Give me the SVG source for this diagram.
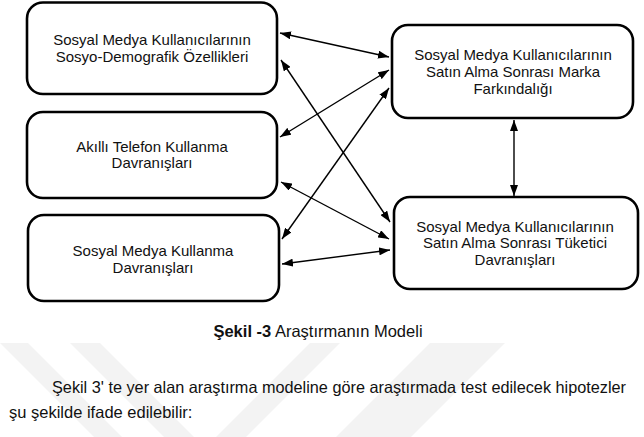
<svg xmlns="http://www.w3.org/2000/svg" width="644" height="437" viewBox="0 0 644 437">
  <style>
    .box { fill: #ffffff; stroke: #000000; stroke-width: 2.6; }
    .lbl { font-family: "Liberation Sans", Arial, sans-serif; font-size: 15px; fill: #111111; text-anchor: middle; }
    .edge { stroke: #000000; stroke-width: 1.4; fill: none; marker-start: url(#ah); marker-end: url(#ah); }
    .wm { fill: #f3f3f3; }
    .cap { font-family: "Liberation Sans", Arial, sans-serif; font-size: 16.5px; fill: #111111; }
    .para { font-family: "Liberation Sans", Arial, sans-serif; font-size: 16.5px; fill: #111111; }
  </style>
  <defs>
    <marker id="ah" viewBox="0 0 11 8" refX="11" refY="4" markerWidth="11" markerHeight="8" markerUnits="userSpaceOnUse" orient="auto-start-reverse">
      <path d="M0,0 L11,4 L0,8 Z" fill="#000000"/>
    </marker>
  </defs>
  <rect width="644" height="437" fill="#ffffff"/>

  <g id="watermark">
    <polygon class="wm" points="0,343 28,343 122,437 94,437"/>
    <polygon class="wm" points="70,343 100,343 194,437 164,437"/>
    <polygon class="wm" points="310,343 340,343 246,437 216,437"/>
    <polygon class="wm" points="430,343 505,343 411,437 336,437"/>
  </g>

  <g id="edges">
    <line class="edge" x1="280" y1="33" x2="389" y2="57"/>
    <line class="edge" x1="281" y1="60" x2="390" y2="222"/>
    <line class="edge" x1="280" y1="137" x2="389" y2="70"/>
    <line class="edge" x1="281" y1="182" x2="389" y2="239"/>
    <line class="edge" x1="282" y1="239" x2="389" y2="88"/>
    <line class="edge" x1="282" y1="264" x2="390" y2="250"/>
    <line class="edge" x1="514" y1="120" x2="514" y2="196"/>
  </g>

  <g id="n1">
    <rect class="box" x="27" y="2.5" width="250" height="91.5" rx="16"/>
    <text class="lbl" x="152" y="45">Sosyal Medya Kullanıcılarının</text>
    <text class="lbl" x="152" y="62">Sosyo-Demografik Özellikleri</text>
  </g>
  <g id="n2">
    <rect class="box" x="27" y="112" width="250" height="86" rx="16"/>
    <text class="lbl" x="152" y="152">Akıllı Telefon Kullanma</text>
    <text class="lbl" x="152" y="168">Davranışları</text>
  </g>
  <g id="n3">
    <rect class="box" x="28" y="215" width="251" height="86" rx="16"/>
    <text class="lbl" x="153" y="256">Sosyal Medya Kullanma</text>
    <text class="lbl" x="153" y="273">Davranışları</text>
  </g>
  <g id="n4">
    <rect class="box" x="392" y="25" width="241" height="93" rx="16"/>
    <text class="lbl" x="513" y="60">Sosyal Medya Kullanıcılarının</text>
    <text class="lbl" x="513" y="77">Satın Alma Sonrası Marka</text>
    <text class="lbl" x="513" y="94">Farkındalığı</text>
  </g>
  <g id="n5">
    <rect class="box" x="394" y="197" width="244" height="92" rx="16"/>
    <text class="lbl" x="515" y="232">Sosyal Medya Kullanıcılarının</text>
    <text class="lbl" x="515" y="248">Satın Alma Sonrası Tüketici</text>
    <text class="lbl" x="515" y="265">Davranışları</text>
  </g>

  <text class="cap" x="318" y="337" text-anchor="middle"><tspan font-weight="bold">Şekil -3</tspan> Araştırmanın Modeli</text>
  <text class="para" x="52" y="393" textLength="574" lengthAdjust="spacingAndGlyphs">Şekil 3' te yer alan araştırma modeline göre araştırmada test edilecek hipotezler</text>
  <text class="para" x="9" y="418">şu şekilde ifade edilebilir:</text>
</svg>
